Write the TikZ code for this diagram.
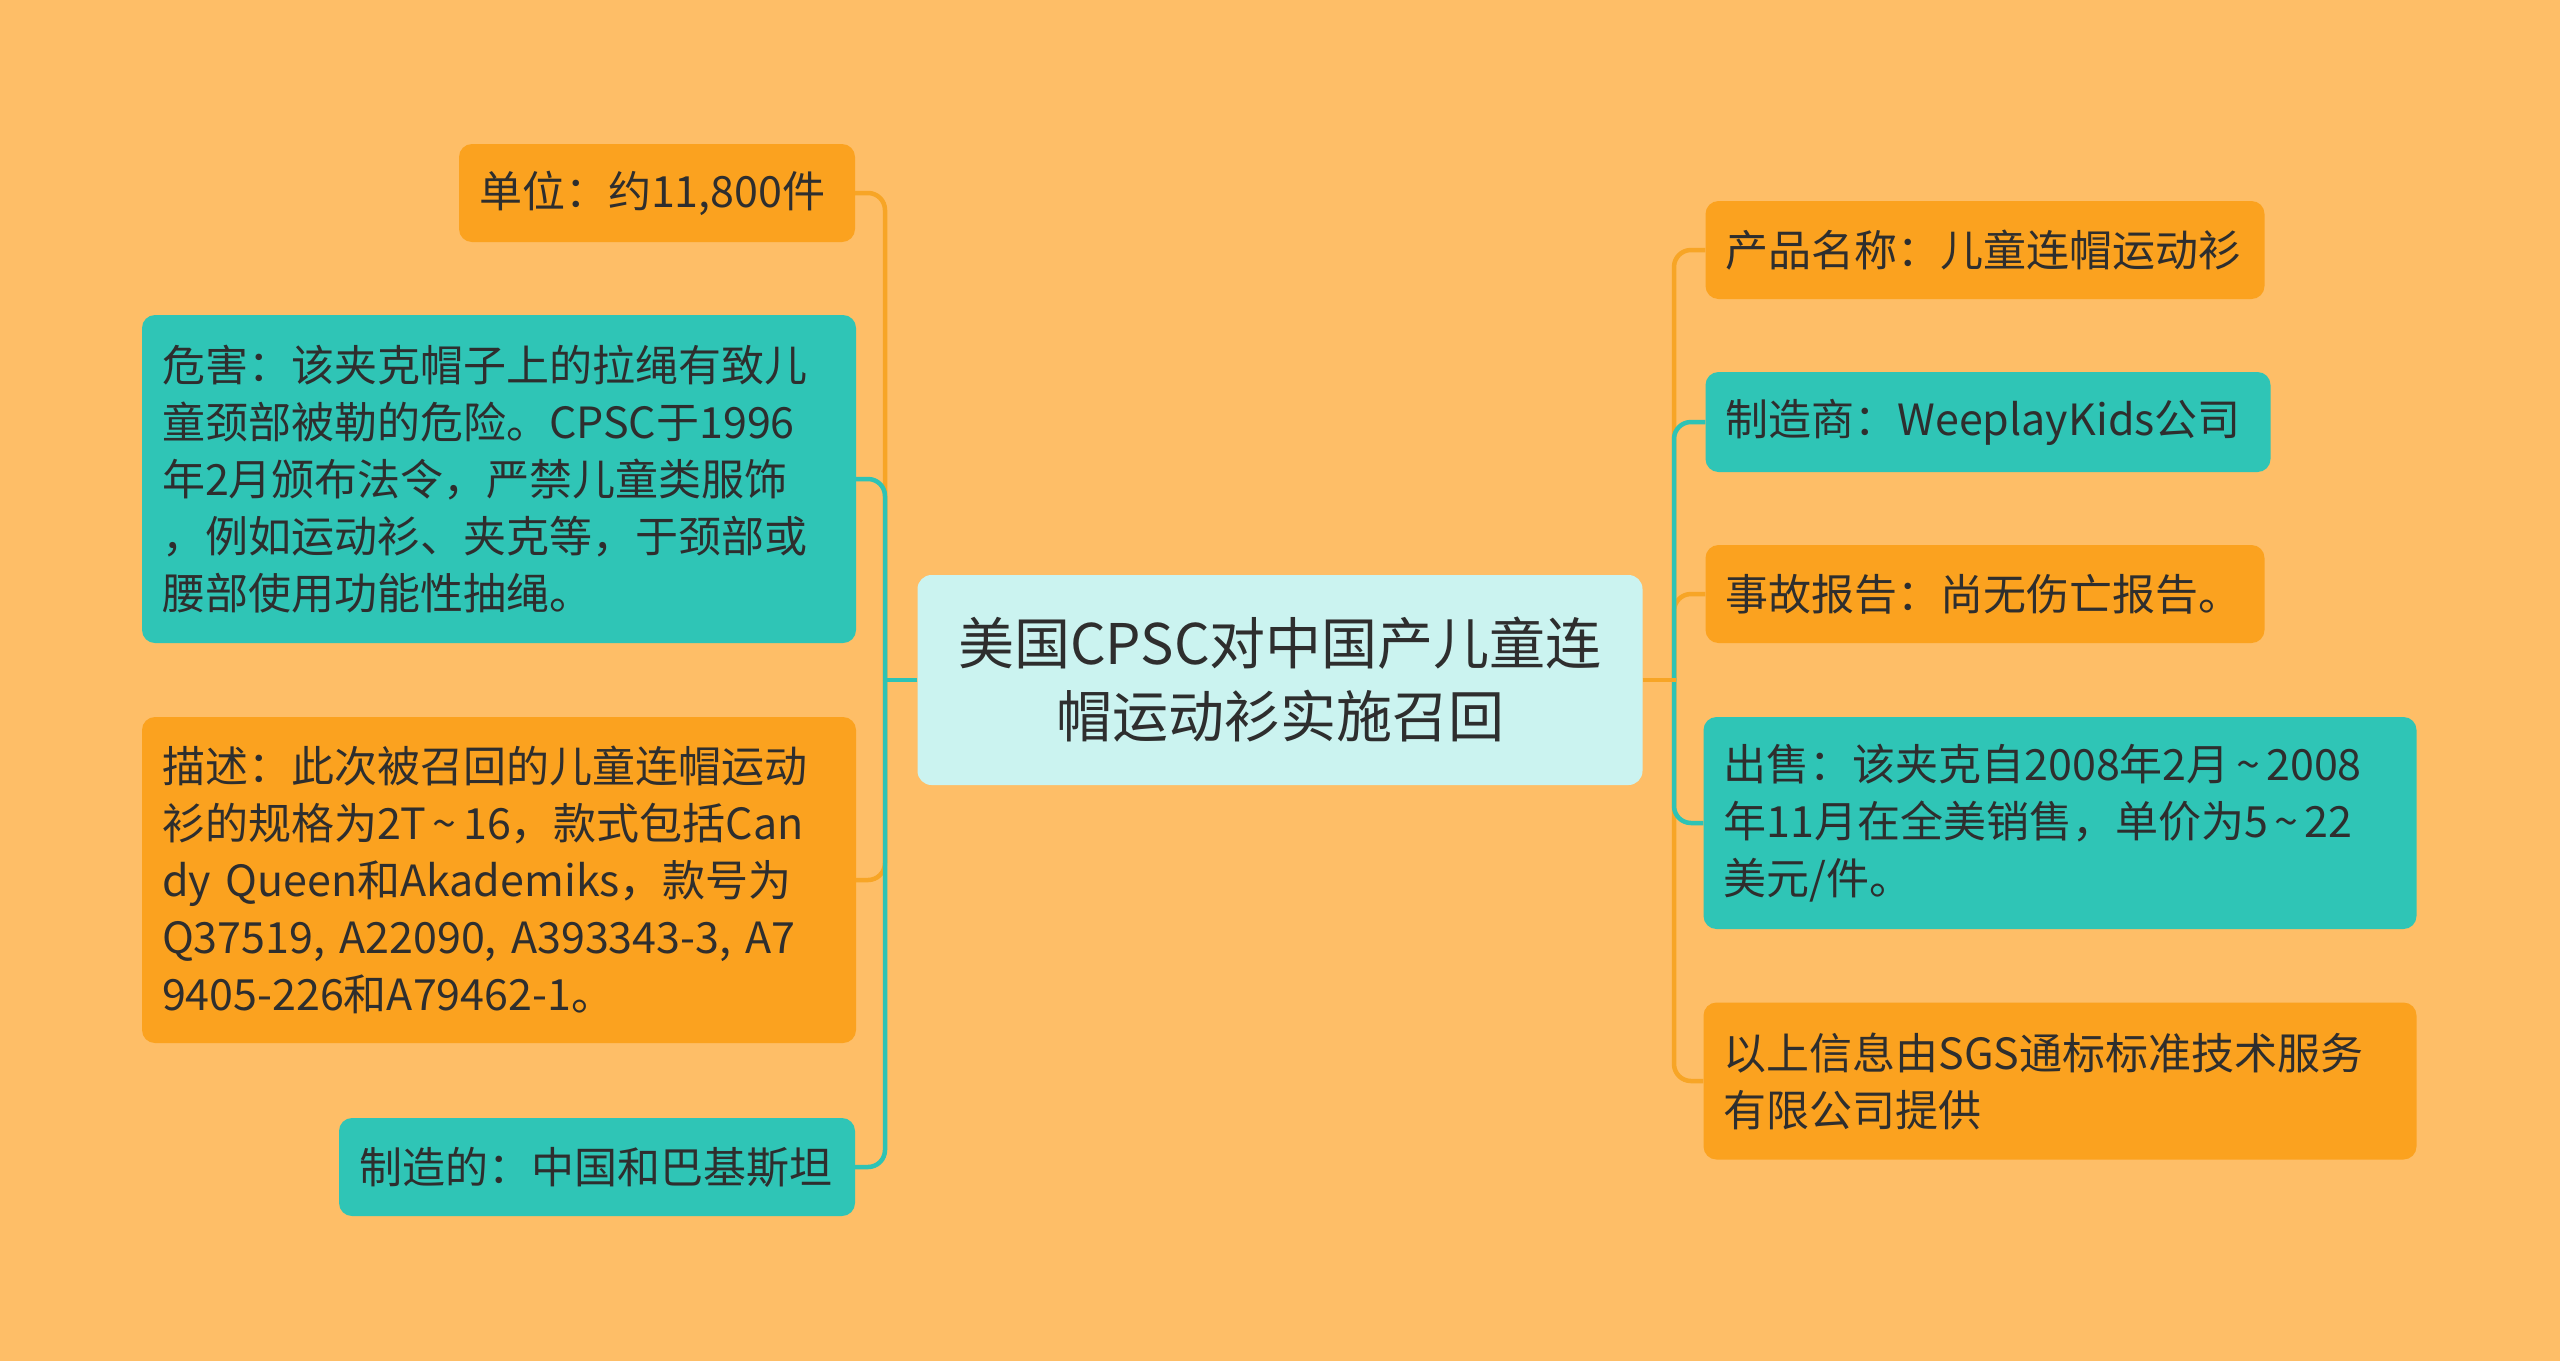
\documentclass[tikz,border=0pt]{standalone}
\usepackage{fontspec}
\usepackage{tikz}
\setmainfont{Noto Sans CJK SC}
\usetikzlibrary{positioning}

\definecolor{bgorange}{HTML}{FEBE67}
\definecolor{boxorange}{HTML}{FBA21F}
\definecolor{boxteal}{HTML}{2FC5B6}
\definecolor{rootcyan}{HTML}{CBF3F0}
\definecolor{textdark}{HTML}{2E2E2E}
\definecolor{lineorange}{HTML}{F7A526}
\definecolor{lineteal}{HTML}{2EC3B5}
\newcommand\tildemark{\makebox[0.85em]{\symbol{126}}}

\begin{document}
\begin{tikzpicture}[x=1pt,y=-1pt,
  box/.style={rounded corners=13pt, inner xsep=20pt, inner ysep=0pt,
    text=textdark, font=\fontsize{43}{57}\selectfont, align=left},
  obox/.style={box, fill=boxorange},
  tbox/.style={box, fill=boxteal},
  link/.style={line width=4.5pt, rounded corners=17pt},
  olink/.style={link, draw=lineorange},
  tlink/.style={link, draw=lineteal}]
  \fill[bgorange] (0,0) rectangle (2560,1361);

  % centre topic
  \node[rounded corners=14pt, fill=rootcyan, text=textdark, align=center,
    font=\fontsize{56}{73}\selectfont, minimum width=725pt, minimum height=210pt,
    text width=690pt, inner sep=0pt] (recall) at (1280,680)
    {美国CPSC对中国产儿童连\\帽运动衫实施召回};

  % left branch
  \node[obox, minimum width=394pt, minimum height=98pt, text width=356pt] (unit) at (657,193)
    {单位：约11,800件};
  \node[tbox, minimum width=710pt, minimum height=328pt, text width=674pt] (hazard) at (499,479)
    {危害：该夹克帽子上的拉绳有致儿\\童颈部被勒的危险。CPSC于1996\\年2月颁布法令，严禁儿童类服饰\\，例如运动衫、夹克等，于颈部或\\腰部使用功能性抽绳。};
  \node[obox, minimum width=710pt, minimum height=326pt, text width=674pt] (desc) at (499,880)
    {描述：此次被召回的儿童连帽运动\\衫的规格为2T\tildemark16，款式包括Can\\dy~Queen和Akademiks，款号为\\Q37519,~A22090,~A393343-3,~A7\\9405-226和A79462-1。};
  \node[tbox, minimum width=514pt, minimum height=98pt, text width=476pt] (origin) at (597,1167)
    {制造的：中国和巴基斯坦};

  % right branch
  \node[obox, minimum width=557pt, minimum height=98pt, text width=519pt] (pname) at (1985,250)
    {产品名称：儿童连帽运动衫};
  \node[tbox, minimum width=563pt, minimum height=100pt, text width=525pt] (maker) at (1988,422)
    {制造商：WeeplayKids公司};
  \node[obox, minimum width=557pt, minimum height=98pt, text width=519pt] (incident) at (1985,594)
    {事故报告：尚无伤亡报告。};
  \node[tbox, minimum width=709pt, minimum height=212pt, text width=673pt] (sales) at (2060,823)
    {出售：该夹克自2008年2月\tildemark2008\\年11月在全美销售，单价为5\tildemark22\\美元/件。};
  \node[obox, minimum width=709pt, minimum height=157pt, text width=673pt] (source) at (2060,1081)
    {以上信息由SGS通标标准技术服务\\有限公司提供};

  % connectors
  \coordinate (lhub) at (885,680);
  \coordinate (rhub) at (1674,680);
  \draw[olink] (lhub) |- (unit.east);
  \draw[olink] (lhub) |- (desc.east);
  \draw[tlink] (lhub) |- (hazard.east);
  \draw[tlink] (lhub) |- (origin.east);
  \draw[tlink] (recall.west) -- ([xshift=-2.25pt]lhub);
  \draw[olink] (rhub) |- (pname.west);
  \draw[olink] (rhub) |- (incident.west);
  \draw[olink] (rhub) |- (source.west);
  \draw[tlink] (rhub) |- (maker.west);
  \draw[tlink] (rhub) |- (sales.west);
  \draw[olink] (recall.east) -- ([xshift=2.25pt]rhub);
\end{tikzpicture}
\end{document}
